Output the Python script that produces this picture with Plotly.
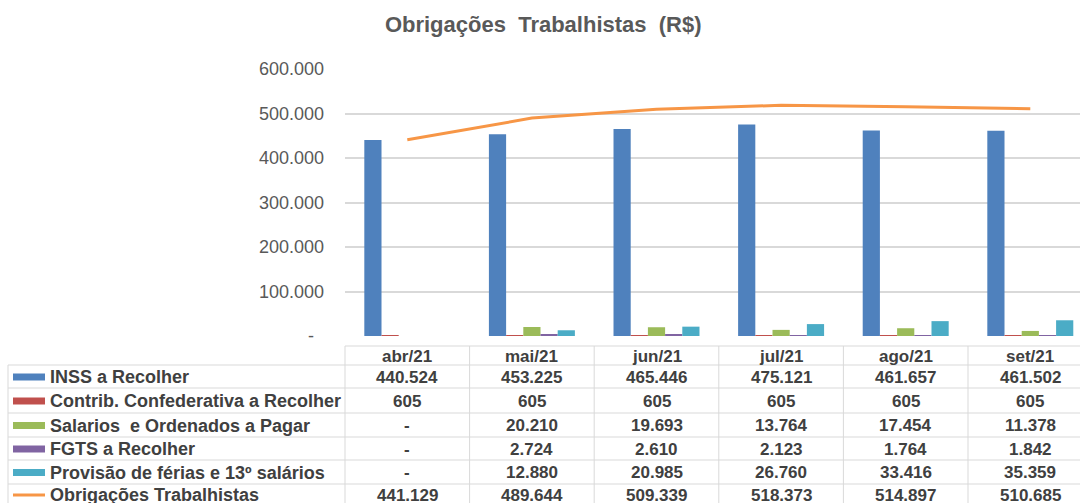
import plotly.graph_objects as go

# ---------------- data ----------------
months = ["abr/21", "mai/21", "jun/21", "jul/21", "ago/21", "set/21"]
inss = [440524, 453225, 465446, 475121, 461657, 461502]
contrib = [605, 605, 605, 605, 605, 605]
salarios = [None, 20210, 19693, 13764, 17454, 11378]
fgts = [None, 2724, 2610, 2123, 1764, 1842]
provisao = [None, 12880, 20985, 26760, 33416, 35359]
total = [441129, 489644, 509339, 518373, 514897, 510685]

series_names = [
    "INSS a Recolher",
    "Contrib. Confederativa a Recolher",
    "Salarios  e Ordenados a Pagar",
    "FGTS a Recolher",
    "Provisão de férias e 13º salários",
    "Obrigações Trabalhistas",
]
y_ticks = [0, 100000, 200000, 300000, 400000, 500000, 600000]

# ---------------- styling / layout constants ----------------
colors = ["#4F81BD", "#C0504D", "#9BBB59", "#8064A2", "#4BACC6", "#F79646"]
W, H = 1080, 503
PL, PR, PT, PB = 345, 1080, 69, 336      # plot area in pixels
CAT_W = 124.6                              # category width in pixels
GRID = "#d9d9d9"
TXT = "#404040"
FONT = "Liberation Sans, Arial, sans-serif"


def xp(px):
    return (px - PL) / (PR - PL)


def yp(py):
    return (PB - py) / (PB - PT)


def fmt(v):
    if v is None or v == 0:
        return "-"
    return f"{v:,}".replace(",", ".")


fig = go.Figure()
bar_series = [inss, contrib, salarios, fgts, provisao]
for name, vals, col in zip(series_names[:5], bar_series, colors[:5]):
    fig.add_trace(go.Bar(x=months, y=vals, name=name, marker_color=col,
                         marker_line_width=0))
fig.add_trace(go.Scatter(x=months, y=total, name=series_names[5], mode="lines",
                         line=dict(color=colors[5], width=3)))

shapes = []
annotations = []

# table geometry (pixels)
header_top = 346
row_lines = [365, 388, 413, 437, 460, 484, 508]
header_center = 356

# horizontal lines
shapes.append(dict(type="line", xref="paper", yref="paper",
                   x0=xp(PL), x1=xp(PR), y0=yp(header_top), y1=yp(header_top),
                   line=dict(color=GRID, width=1)))
for ry in row_lines:
    shapes.append(dict(type="line", xref="paper", yref="paper",
                       x0=xp(8), x1=xp(PR), y0=yp(ry), y1=yp(ry),
                       line=dict(color=GRID, width=1)))
# vertical lines
shapes.append(dict(type="line", xref="paper", yref="paper",
                   x0=xp(8), x1=xp(8), y0=yp(row_lines[0]), y1=yp(row_lines[-1]),
                   line=dict(color=GRID, width=1)))
for k in range(len(months)):
    xpix = PL + k * CAT_W
    shapes.append(dict(type="line", xref="paper", yref="paper",
                       x0=xp(xpix), x1=xp(xpix), y0=yp(header_top), y1=yp(row_lines[-1]),
                       line=dict(color=GRID, width=1)))

# header texts
for m in months:
    annotations.append(dict(x=m, xref="x", y=yp(header_center), yref="paper",
                            text=f"<b>{m}</b>", showarrow=False, xanchor="center",
                            yanchor="middle",
                            font=dict(family=FONT, size=17, color=TXT)))

# rows
all_series = [inss, contrib, salarios, fgts, provisao, total]
for r, (name, vals, col) in enumerate(zip(series_names, all_series, colors)):
    top, bot = row_lines[r], row_lines[r + 1]
    cy = (top + bot) / 2 + (0.5 if r < 5 else -1)
    # legend key
    if r < 5:
        shapes.append(dict(type="rect", xref="paper", yref="paper",
                           x0=xp(13), x1=xp(45), y0=yp(cy - 3.5), y1=yp(cy + 3.5),
                           fillcolor=col, line=dict(width=0)))
    else:
        shapes.append(dict(type="line", xref="paper", yref="paper",
                           x0=xp(13), x1=xp(45), y0=yp(cy), y1=yp(cy),
                           line=dict(color=col, width=3)))
    annotations.append(dict(x=xp(48), xref="paper", y=yp(cy), yref="paper",
                            text=f"<b>{name}</b>", showarrow=False, xanchor="left",
                            yanchor="middle",
                            font=dict(family=FONT, size=18, color=TXT)))
    for m, v in zip(months, vals):
        annotations.append(dict(x=m, xref="x", y=yp(cy), yref="paper",
                                text=f"<b>{fmt(v)}</b>", showarrow=False,
                                xanchor="center", yanchor="middle",
                                font=dict(family=FONT, size=17, color=TXT)))

tick_text = [fmt(v) if v else "-\u00a0\u00a0" for v in y_ticks]

fig.update_layout(
    width=W, height=H,
    margin=dict(l=PL, r=W - PR, t=PT, b=H - PB, pad=0),
    paper_bgcolor="white", plot_bgcolor="white",
    barmode="group", bargap=0.31, bargroupgap=0,
    showlegend=False,
    title=dict(text="<b>Obrigações  Trabalhistas  (R$)</b>", x=0.503, xref="container",
               y=1 - 24 / H, yref="container", xanchor="center", yanchor="middle",
               font=dict(family=FONT, size=22, color="#595959")),
    xaxis=dict(type="category", categoryorder="array", categoryarray=months,
               range=[-0.5, -0.5 + (PR - PL) / CAT_W],
               showticklabels=False, showgrid=False, zeroline=False, showline=False,
               ticks=""),
    yaxis=dict(range=[0, 600000], tickvals=y_ticks, ticktext=tick_text,
               showgrid=True, gridcolor=GRID, gridwidth=1.5, zeroline=False,
               showline=False, ticks="", ticklabelstandoff=20,
               tickfont=dict(family=FONT, size=18, color="#595959")),
    shapes=shapes, annotations=annotations,
)

fig.write_html("out.html", config={"displayModeBar": False},
               post_script="document.body.style.margin='0';")
